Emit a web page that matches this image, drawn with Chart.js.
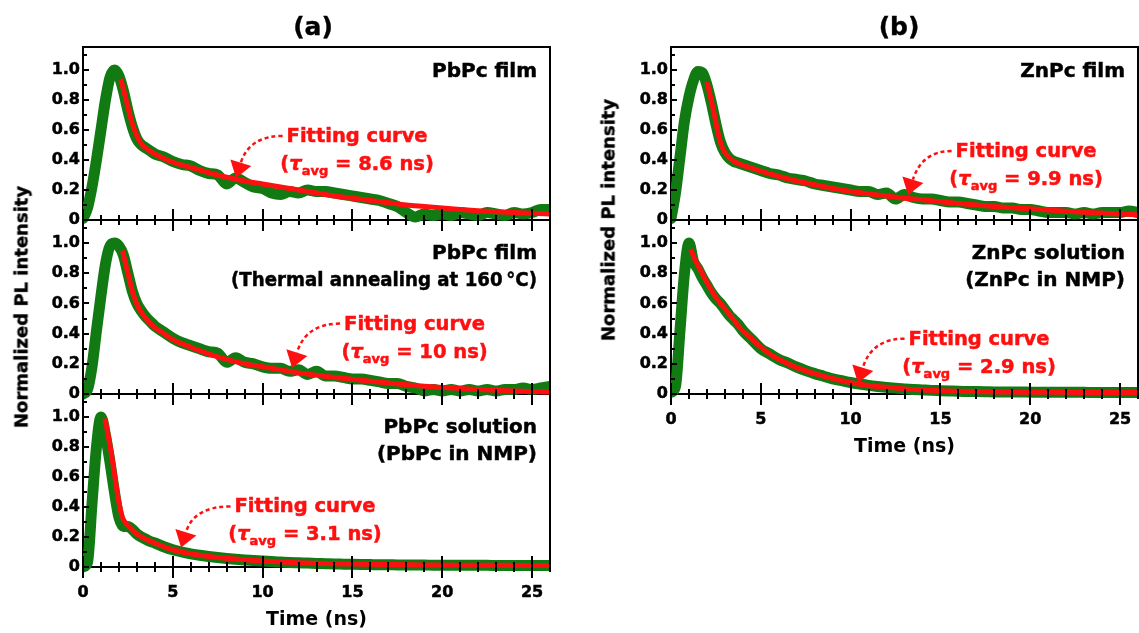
<!DOCTYPE html>
<html>
<head>
<meta charset="utf-8">
<script src="https://cdn.jsdelivr.net/npm/chart.js@4.4.1/dist/chart.umd.min.js"></script>
<style>
  html, body { margin: 0; padding: 0; background: #fff; overflow: hidden; }
  #fig { position: relative; width: 1139px; height: 633px; overflow: hidden;
         font-family: "DejaVu Sans", sans-serif; font-weight: bold; color: #000; }
  #fig canvas { position: absolute; }
  .ttl { position: absolute; font-size: 25px; white-space: nowrap; transform: translate(-50%, -50%);
         -webkit-text-stroke: 0.4px #000; }
  .ylab { position: absolute; font-size: 18px; white-space: nowrap;
          transform: translate(-50%, -50%) rotate(-90deg); -webkit-text-stroke: 0.4px #000; }
</style>
</head>
<body>
<div id="fig">
  <div class="ttl" style="left:313px;top:26px">(a)</div>
  <div class="ttl" style="left:899px;top:26px">(b)</div>
  <div class="ylab" style="left:21px;top:307px">Normalized PL intensity</div>
  <div class="ylab" style="left:608px;top:220px">Normalized PL intensity</div>
</div>
<script>
// time grid of the measured decays (ns)
const timeNs = [0, 0.25, 0.5, 0.75, 1, 1.25, 1.5, 1.75, 2, 2.25, 2.5, 2.75, 3, 3.25, 3.5, 3.75, 4,
  4.5, 5, 5.5, 6, 6.5, 7, 7.5, 8, 8.5, 9, 9.5, 10, 10.5, 11, 11.5, 12, 12.5, 13, 13.5, 14,
  14.5, 15, 15.5, 16, 16.5, 17, 17.5, 18, 18.5, 19, 19.5, 20, 20.5, 21, 21.5, 22, 22.5, 23, 23.5, 24,
  24.5, 25, 25.5, 26];

// measured PL (green)
const pbFilmPL = [0.01, 0.08, 0.22, 0.40, 0.60, 0.80, 0.95, 1.00, 0.96, 0.86, 0.73, 0.62, 0.54, 0.50, 0.48, 0.46, 0.44,
  0.42, 0.39, 0.37, 0.36, 0.33, 0.31, 0.30, 0.24, 0.28, 0.25, 0.22, 0.21, 0.18, 0.17, 0.19, 0.18, 0.20, 0.19, 0.19, 0.18,
  0.17, 0.16, 0.15, 0.14, 0.13, 0.11, 0.09, 0.05, 0.02, 0.04, 0.03, 0.04, 0.03, 0.05, 0.04, 0.03, 0.05, 0.04, 0.03, 0.05,
  0.04, 0.05, 0.07, 0.07];
const pbAnnealPL = [0.00, 0.03, 0.18, 0.42, 0.65, 0.86, 0.98, 1.00, 0.98, 0.92, 0.80, 0.68, 0.60, 0.55, 0.51, 0.48, 0.45,
  0.41, 0.37, 0.34, 0.32, 0.30, 0.28, 0.27, 0.21, 0.24, 0.21, 0.20, 0.18, 0.17, 0.17, 0.15, 0.16, 0.13, 0.15, 0.12, 0.12,
  0.11, 0.10, 0.10, 0.09, 0.08, 0.07, 0.07, 0.05, 0.04, 0.02, 0.03, 0.02, 0.03, 0.02, 0.03, 0.02, 0.03, 0.02, 0.03, 0.03,
  0.04, 0.03, 0.04, 0.05];
const pbSolPL = [0.00, 0.03, 0.42, 0.80, 1.00, 0.88, 0.70, 0.50, 0.33, 0.27, 0.27, 0.25, 0.22, 0.20, 0.185, 0.17, 0.16,
  0.135, 0.115, 0.10, 0.088, 0.078, 0.07, 0.063, 0.057, 0.052, 0.047, 0.043, 0.04, 0.036, 0.033, 0.03, 0.028, 0.026, 0.024, 0.022, 0.02,
  0.019, 0.018, 0.017, 0.016, 0.015, 0.015, 0.014, 0.014, 0.013, 0.013, 0.012, 0.012, 0.012, 0.011, 0.011, 0.011, 0.011, 0.01, 0.01, 0.01,
  0.01, 0.01, 0.01, 0.01];
const znFilmPL = [0.01, 0.18, 0.42, 0.66, 0.82, 0.93, 0.99, 0.98, 0.90, 0.78, 0.64, 0.52, 0.45, 0.41, 0.39, 0.38, 0.37,
  0.35, 0.33, 0.31, 0.30, 0.28, 0.27, 0.26, 0.24, 0.23, 0.22, 0.21, 0.20, 0.19, 0.19, 0.17, 0.18, 0.14, 0.17, 0.15, 0.14,
  0.14, 0.13, 0.12, 0.12, 0.11, 0.10, 0.09, 0.09, 0.08, 0.08, 0.07, 0.07, 0.06, 0.05, 0.05, 0.05, 0.04, 0.05, 0.04, 0.05,
  0.05, 0.05, 0.06, 0.05];
const znSolPL = [0.01, 0.05, 0.42, 0.80, 1.00, 0.88, 0.83, 0.77, 0.72, 0.67, 0.63, 0.60, 0.56, 0.52, 0.49, 0.46, 0.42,
  0.36, 0.30, 0.265, 0.23, 0.205, 0.178, 0.155, 0.135, 0.118, 0.10, 0.088, 0.076, 0.066, 0.057, 0.05, 0.044, 0.039, 0.034, 0.03, 0.027,
  0.024, 0.022, 0.02, 0.018, 0.017, 0.016, 0.015, 0.014, 0.014, 0.013, 0.013, 0.012, 0.012, 0.012, 0.011, 0.011, 0.011, 0.011, 0.01, 0.01,
  0.01, 0.01, 0.01, 0.01];

// fitting curves (red)
const pbFilmFitT = [2.1, 2.4, 2.7, 3.0, 3.3, 3.6, 4, 4.5, 5, 6, 7, 8, 9, 10, 11, 12, 13, 14, 15, 16, 17, 18, 19, 20, 21, 22, 23, 24, 25, 26];
const pbFilmFit = [0.94, 0.80, 0.66, 0.56, 0.50, 0.47, 0.44, 0.41, 0.385, 0.35, 0.315, 0.285, 0.26, 0.24, 0.22, 0.20, 0.18, 0.16, 0.145,
  0.13, 0.115, 0.10, 0.09, 0.08, 0.07, 0.062, 0.055, 0.05, 0.045, 0.04];
const pbAnnealFitT = [2.2, 2.5, 2.8, 3.1, 3.5, 4, 4.5, 5, 6, 7, 8, 9, 10, 11, 12, 13, 14, 15, 16, 17, 18, 19, 20, 21, 22, 23, 24, 25, 26];
const pbAnnealFit = [0.95, 0.80, 0.66, 0.57, 0.50, 0.44, 0.40, 0.36, 0.31, 0.265, 0.23, 0.20, 0.18, 0.16, 0.14, 0.125, 0.11, 0.097,
  0.085, 0.073, 0.062, 0.052, 0.043, 0.036, 0.03, 0.025, 0.02, 0.016, 0.013];
const pbSolFitT = [1.22, 1.4, 1.6, 1.8, 2.0, 2.2, 2.4, 2.6, 3, 3.5, 4, 4.5, 5, 5.5, 6, 7, 8, 9, 10, 11, 12, 13, 14, 15, 17, 19, 21, 23, 26];
const pbSolFit = [0.99, 0.88, 0.74, 0.58, 0.43, 0.33, 0.29, 0.265, 0.22, 0.185, 0.16, 0.135, 0.115, 0.10, 0.088, 0.07, 0.058, 0.048,
  0.04, 0.034, 0.029, 0.025, 0.022, 0.02, 0.016, 0.014, 0.012, 0.011, 0.01];
const znFilmFitT = [2.0, 2.2, 2.4, 2.6, 2.8, 3.0, 3.3, 3.6, 4, 4.5, 5, 6, 7, 8, 9, 10, 11, 12, 13, 14, 15, 16, 17, 18, 19, 20, 21, 22, 23, 24, 25, 26];
const znFilmFit = [0.92, 0.82, 0.71, 0.59, 0.50, 0.45, 0.41, 0.385, 0.365, 0.345, 0.325, 0.29, 0.26, 0.235, 0.21, 0.19, 0.175, 0.16,
  0.145, 0.135, 0.122, 0.11, 0.10, 0.09, 0.082, 0.075, 0.066, 0.058, 0.052, 0.046, 0.04, 0.035];
const znSolFitT = [1.1, 1.3, 1.6, 2.0, 2.5, 2.9, 3.5, 3.9, 4.5, 4.9, 5.5, 6, 6.9, 8, 8.9, 10, 10.9, 12, 13, 14, 15, 16, 18, 20, 22, 24, 26];
const znSolFit = [0.96, 0.90, 0.83, 0.74, 0.64, 0.58, 0.49, 0.43, 0.365, 0.32, 0.265, 0.23, 0.18, 0.135, 0.105, 0.075, 0.058, 0.044,
  0.034, 0.027, 0.022, 0.018, 0.014, 0.012, 0.011, 0.01, 0.01];

const xTicks = [0, 1, 2, 3, 4, 5, 6, 7, 8, 9, 10, 11, 12, 13, 14, 15, 16, 17, 18, 19, 20, 21, 22, 23, 24, 25, 26];
const yTicks = [0, 0.1, 0.2, 0.3, 0.4, 0.5, 0.6, 0.7, 0.8, 0.9, 1.0, 1.1];

const GREEN = '#127a12';
const RED = '#ff1010';
const FONT = '"DejaVu Sans"';

// plot areas in page pixels: left, top, right, bottom
const panels = [
  { area: [83, 47, 550, 220], t: timeNs, pl: pbFilmPL, fitT: pbFilmFitT, fit: pbFilmFit, xlab: false,
    name: ['PbPc film'], tau: '8.6', text: [15.26, 0.52], tip: [8.52, 0.28] },
  { area: [83, 220, 550, 394], t: timeNs, pl: pbAnnealPL, fitT: pbAnnealFitT, fit: pbAnnealFit, xlab: false,
    name: ['PbPc film', '(Thermal annealing at 160\u2009\u00b0C)'], nameW: [0, 306], tau: '10', text: [18.46, 0.427], tip: [11.64, 0.173] },
  { area: [83, 394, 550, 567], t: timeNs, pl: pbSolPL, fitT: pbSolFitT, fit: pbSolFit, xlab: true,
    name: ['PbPc solution', '(PbPc in NMP)'], tau: '3.1', text: [12.36, 0.364], tip: [5.46, 0.13] },
  { area: [671, 47, 1138, 220], t: timeNs, pl: znFilmPL, fitT: znFilmFitT, fit: znFilmFit, xlab: false,
    name: ['ZnPc film'], tau: '9.9', text: [19.77, 0.42], tip: [13.2, 0.167] },
  { area: [671, 220, 1138, 394], t: timeNs, pl: znSolPL, fitT: znSolFitT, fit: znSolFit, xlab: true,
    name: ['ZnPc solution', '(ZnPc in NMP)'], tau: '2.9', text: [17.15, 0.327], tip: [10.41, 0.073] },
];

const YW = 80, PT = 12, PR = 12, XH = 64, PB = 14;

// frame + ticks that cross the bottom axis
const frame = {
  id: 'frame',
  afterDraw(chart) {
    const { ctx, chartArea: a } = chart;
    const x = chart.scales.x, y = chart.scales.y;
    ctx.save();
    ctx.strokeStyle = '#000';
    ctx.lineWidth = 2;
    ctx.beginPath();
    ctx.moveTo(a.left, a.top);
    ctx.lineTo(a.right, a.top);
    ctx.lineTo(a.right, a.bottom);
    x.ticks.forEach((tk) => {
      const px = Math.round(x.getPixelForValue(tk.value));
      const len = tk.value % 5 === 0 ? 11 : 5;
      ctx.moveTo(px, a.bottom - len);
      ctx.lineTo(px, a.bottom + len);
    });
    y.ticks.forEach((tk) => {
      const py = Math.round(y.getPixelForValue(tk.value));
      const len = Math.round(tk.value * 10) % 2 === 0 ? 6 : 4;
      ctx.moveTo(a.left, py);
      ctx.lineTo(a.left + len, py);
    });
    ctx.stroke();
    ctx.restore();
  },
};

// text with a thin outline so it reads as heavy as the original
function boldText(ctx, s, x, y, maxW) {
  if (maxW) {
    ctx.fillText(s, x, y, maxW);
    ctx.strokeText(s, x, y, maxW);
  } else {
    ctx.fillText(s, x, y);
    ctx.strokeText(s, x, y);
  }
}

// sample name, "Fitting curve" label and dashed arrow
const notes = {
  id: 'notes',
  afterDraw(chart, args, o) {
    const { ctx, chartArea: a } = chart;
    const x = chart.scales.x, y = chart.scales.y;
    const big = 'bold 19.5px ' + FONT;
    ctx.save();
    ctx.lineWidth = 0.5;
    ctx.fillStyle = '#000';
    ctx.strokeStyle = '#000';
    ctx.font = 'bold 20px ' + FONT;
    ctx.textAlign = 'right';
    const first = o.name.length > 1 ? 39 : 30;
    o.name.forEach((line, i) => boldText(ctx, line, a.right - 13, a.top + first + i * 27, o.nameW ? o.nameW[i] : 0));

    ctx.fillStyle = RED;
    ctx.strokeStyle = RED;
    ctx.textAlign = 'left';
    const cx = x.getPixelForValue(o.text[0]);
    const by = y.getPixelForValue(o.text[1]);
    ctx.font = big;
    const w1 = ctx.measureText('Fitting curve').width;
    const x1 = cx - w1 / 2;
    boldText(ctx, 'Fitting curve', x1, by);

    const parts = [['(', big, 0], ['\u03c4', 'italic ' + big, 0], ['avg', 'bold 13px ' + FONT, 5], [' = ' + o.tau + ' ns)', big, 0]];
    let w2 = 0;
    parts.forEach((p) => { ctx.font = p[1]; w2 += ctx.measureText(p[0]).width; });
    let px = cx - w2 / 2;
    parts.forEach((p) => {
      ctx.font = p[1];
      boldText(ctx, p[0], px, by + 28 + p[2]);
      px += ctx.measureText(p[0]).width;
    });

    // arrow from the label down to the curve
    const tx = x.getPixelForValue(o.tip[0]);
    const ty = y.getPixelForValue(o.tip[1]);
    const dx = -0.3, dy = 0.954;
    const bx = tx - 16 * dx, bY = ty - 16 * dy;
    const sx = x1 - 4, sy = by - 6;
    const k = (bY - sy) / dy;
    ctx.lineWidth = 2.5;
    ctx.setLineDash([4, 3]);
    ctx.beginPath();
    ctx.moveTo(sx, sy);
    ctx.quadraticCurveTo(bx - k * dx, sy, bx, bY);
    ctx.stroke();
    ctx.setLineDash([]);
    ctx.beginPath();
    ctx.moveTo(tx, ty);
    ctx.lineTo(bx + 11 * dy, bY - 11 * dx);
    ctx.lineTo(bx - 11 * dy, bY + 11 * dx);
    ctx.closePath();
    ctx.fill();
    ctx.restore();
  },
};

const fig = document.getElementById('fig');
const tickFont = { family: 'DejaVu Sans', size: 16, weight: 'bold' };

panels.forEach((p) => {
  const [L, T, R, B] = p.area;
  const canvas = document.createElement('canvas');
  canvas.width = YW + (R - L) + PR;
  canvas.height = PT + (B - T) + (p.xlab ? XH : PB);
  canvas.style.left = L - YW + 'px';
  canvas.style.top = T - PT + 'px';
  fig.insertBefore(canvas, fig.firstChild);

  const pts = p.t.map((t, i) => ({ x: t, y: p.pl[i] }));
  const fitPts = p.fitT.map((t, i) => ({ x: t, y: p.fit[i] }));
  const clip = { left: 0, top: 10, right: 0, bottom: 6 };

  // eslint-disable-next-line no-undef
  new Chart(canvas, {
    type: 'line',
    data: {
      datasets: [
        { data: fitPts, borderColor: RED, borderWidth: 5, pointRadius: 0, cubicInterpolationMode: 'monotone',
          borderCapStyle: 'butt', borderJoinStyle: 'round', clip: clip, order: 1 },
        { data: pts, borderColor: GREEN, borderWidth: 11, pointRadius: 0, cubicInterpolationMode: 'monotone',
          borderCapStyle: 'round', borderJoinStyle: 'round', clip: clip, order: 2 },
      ],
    },
    options: {
      responsive: false,
      animation: false,
      events: [],
      layout: { padding: { left: 0, top: PT, right: PR, bottom: p.xlab ? 0 : PB } },
      plugins: {
        legend: { display: false },
        tooltip: { enabled: false },
        notes: p,
      },
      scales: {
        x: {
          type: 'linear',
          min: 0,
          max: 26,
          z: 1,
          grid: { display: false, drawTicks: false, tickLength: 0 },
          border: { display: true, color: '#000', width: 2 },
          afterBuildTicks: (s) => { s.ticks = xTicks.map((v) => ({ value: v })); },
          afterFit: (s) => { s.height = p.xlab ? XH : 0; s.paddingLeft = 0; s.paddingRight = 0; },
          ticks: {
            display: p.xlab,
            autoSkip: false,
            maxRotation: 0,
            padding: 16,
            color: '#000',
            textStrokeColor: '#000',
            textStrokeWidth: 0.5,
            font: tickFont,
            callback: (v) => (v % 5 === 0 ? String(v) : ''),
          },
          title: {
            display: p.xlab,
            text: 'Time (ns)',
            color: '#000',
            padding: { top: 0, bottom: 0 },
            font: { family: 'DejaVu Sans', size: 19, weight: 'bold' },
          },
        },
        y: {
          min: 0,
          max: 1.153,
          z: 1,
          grid: { display: false, drawTicks: false, tickLength: 0 },
          border: { display: true, color: '#000', width: 2 },
          afterBuildTicks: (s) => { s.ticks = yTicks.map((v) => ({ value: v })); },
          afterFit: (s) => { s.width = YW; s.paddingTop = 0; s.paddingBottom = 0; },
          ticks: {
            autoSkip: false,
            padding: 3,
            color: '#000',
            textStrokeColor: '#000',
            textStrokeWidth: 0.5,
            font: tickFont,
            callback: (v) => {
              const n = Math.round(v * 10);
              if (n % 2 !== 0) return '';
              return n === 0 ? '0' : (n / 10).toFixed(1);
            },
          },
        },
      },
    },
    plugins: [frame, notes],
  });
});
</script>
</body>
</html>
